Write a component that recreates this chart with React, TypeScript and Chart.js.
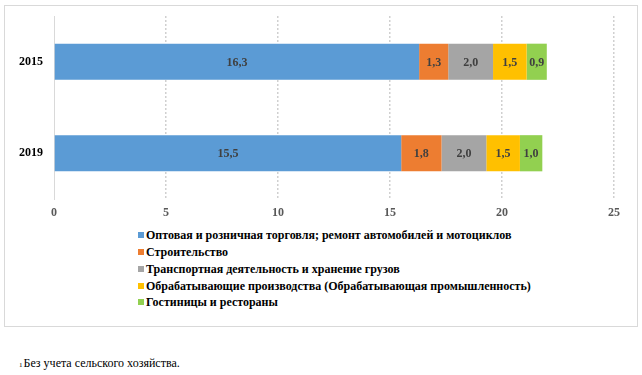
import React, { useEffect, useRef } from 'react';
import { Chart, registerables } from 'chart.js';

Chart.register(...registerables);

const categories = ['2015', '2019'];
const seriesNames = [
  'Оптовая и розничная торговля; ремонт автомобилей и мотоциклов',
  'Строительство',
  'Транспортная деятельность и хранение грузов',
  'Обрабатывающие производства (Обрабатывающая промышленность)',
  'Гостиницы и рестораны',
];
const wholesale = [16.3, 15.5];
const construction = [1.3, 1.8];
const transport = [2.0, 2.0];
const manufacturing = [1.5, 1.5];
const hotels = [0.9, 1.0];
const seriesColors = ['#5B9BD5', '#ED7D31', '#A5A5A5', '#FFC000', '#92D050'];
const xMin = 0;
const xMax = 25;
const xStep = 5;
const footnoteMark = '1';
const footnoteText = 'Без учета сельского хозяйства.';

const FONT = '"Liberation Serif", "Times New Roman", "DejaVu Serif", serif';

const fmt = (v: number) => v.toFixed(1).replace('.', ',');

const valueLabels = {
  id: 'valueLabels',
  afterDatasetsDraw(chart: any) {
    const ctx = chart.ctx;
    ctx.save();
    ctx.font = `bold 12px ${FONT}`;
    ctx.fillStyle = '#404040';
    ctx.textAlign = 'center';
    ctx.textBaseline = 'middle';
    chart.data.datasets.forEach((ds: any, i: number) => {
      const meta = chart.getDatasetMeta(i);
      meta.data.forEach((el: any, j: number) => {
        const p = el.getProps(['x', 'y', 'base'], true);
        ctx.fillText(fmt(ds.data[j]), (p.x + p.base) / 2, p.y + 1);
      });
    });
    ctx.restore();
  },
};

export default function App() {
  const ref = useRef<HTMLCanvasElement | null>(null);

  useEffect(() => {
    if (!ref.current) return;
    const series = [wholesale, construction, transport, manufacturing, hotels];
    const chart = new Chart(ref.current, {
      type: 'bar',
      data: {
        labels: categories,
        datasets: series.map((d, i) => ({
          label: seriesNames[i],
          data: d,
          backgroundColor: seriesColors[i],
          borderWidth: 0,
          categoryPercentage: 1,
          barPercentage: 0.395,
        })),
      },
      options: {
        indexAxis: 'y',
        animation: false,
        responsive: false,
        devicePixelRatio: 1,
        layout: { padding: { left: 14, right: 23, top: 10, bottom: 0 } },
        plugins: {
          legend: { display: false },
          tooltip: { enabled: false },
        },
        scales: {
          x: {
            stacked: true,
            min: xMin,
            max: xMax,
            ticks: {
              stepSize: xStep,
              color: '#595959',
              font: { family: FONT, size: 12, weight: 'bold' },
              padding: 7,
            },
            grid: {
              drawTicks: false,
              lineWidth: 1.5,
              color: (c: any) => (c.tick && c.tick.value === 0 ? 'rgba(0,0,0,0)' : '#d0d0d0'),
            },
            border: { display: false, dash: [2, 2] },
            afterFit: (s: any) => {
              s.height = 22;
            },
          },
          y: {
            stacked: true,
            ticks: {
              color: '#000000',
              font: { family: FONT, size: 12, weight: 'bold' },
              padding: 0,
              crossAlign: 'far',
            },
            grid: { display: false, drawTicks: false },
            border: { display: true, color: '#d9d9d9', width: 1 },
            afterFit: (s: any) => {
              s.width = 35;
            },
          },
        },
      },
      plugins: [valueLabels],
    });
    return () => chart.destroy();
  }, []);

  return (
    <div style={{ position: 'absolute', left: 0, top: 0, width: 642, height: 375, background: '#fff', fontFamily: FONT }}>
      <div
        style={{
          position: 'absolute',
          left: 4,
          top: 5,
          width: 632,
          height: 320,
          border: '1px solid #d9d9d9',
        }}
      >
        <canvas ref={ref} width={632} height={215} style={{ position: 'absolute', left: 0, top: 0, width: 632, height: 215 }} />
      </div>
      <div style={{ position: 'absolute', left: 138, top: 227 }}>
        {seriesNames.map((n, i) => (
          <div key={i} style={{ display: 'flex', alignItems: 'center', height: 16.75, whiteSpace: 'nowrap' }}>
            <span style={{ display: 'inline-block', width: 6, height: 6, background: seriesColors[i], marginRight: 2 }} />
            <span style={{ fontSize: 12, fontWeight: 'bold', color: '#000', lineHeight: '16px' }}>{n}</span>
          </div>
        ))}
      </div>
      <div style={{ position: 'absolute', left: 19, top: 356, fontSize: 12, color: '#000', whiteSpace: 'nowrap', lineHeight: '15px' }}>
        <sup style={{ fontSize: 7, verticalAlign: 'top', position: 'relative', top: 2, marginRight: 1 }}>{footnoteMark}</sup>
        {footnoteText}
      </div>
    </div>
  );
}
